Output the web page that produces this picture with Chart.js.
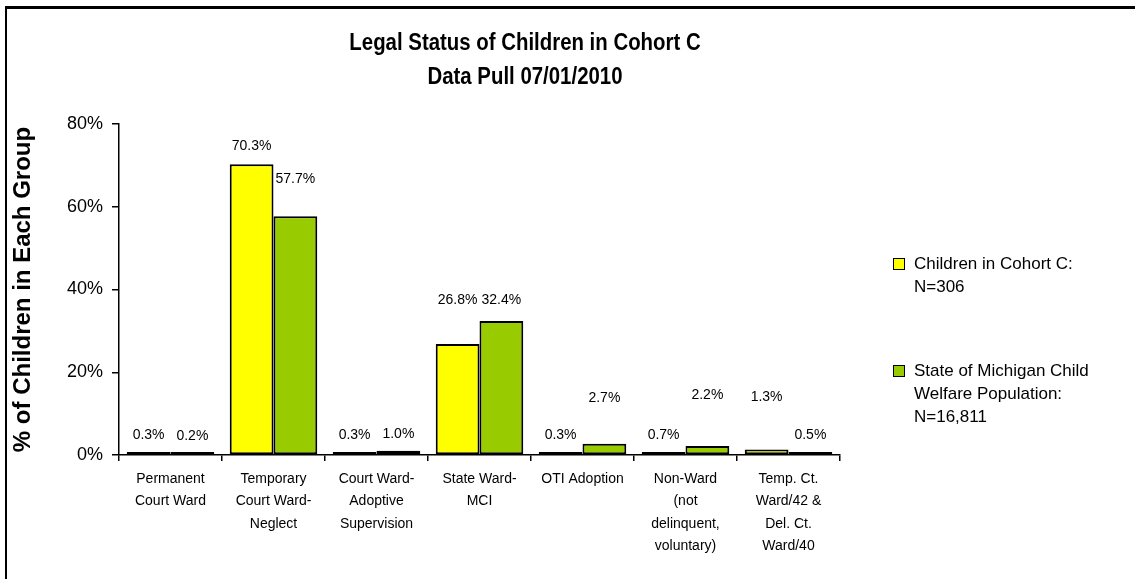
<!DOCTYPE html>
<html>
<head>
<meta charset="utf-8">
<script src="https://cdn.jsdelivr.net/npm/chart.js@4.4.1/dist/chart.umd.min.js"></script>
<style>
  html, body { margin: 0; padding: 0; background: #fff; }
  #wrap { position: relative; width: 1135px; height: 579px; overflow: hidden; font-family: "Liberation Sans", Arial, sans-serif; color: #000; }
  #frame { position: absolute; left: 5px; top: 6px; width: 1140px; height: 600px; border-top: 3px solid #000; border-left: 2px solid #000; }
  #titulo { position: absolute; left: 225px; width: 600px; top: 25px; text-align: center; white-space: nowrap;
            font-weight: bold; font-size: 24px; line-height: 34px; transform: scaleX(0.85); transform-origin: 300px 0; }
  #leyenda { position: absolute; left: 893px; top: 252px; font-size: 17px; line-height: 23px; }
  .item { position: relative; padding-left: 21px; margin-bottom: 61px; }
  .caja { position: absolute; left: 0; top: 6px; width: 10px; height: 10px; border: 1px solid #000; }
</style>
</head>
<body>
<div id="wrap">
  <canvas id="grafico" width="1135" height="579"></canvas>
  <div id="frame"></div>
  <div id="titulo">Legal Status of Children in Cohort C<br>Data Pull 07/01/2010</div>
  <div id="leyenda">
    <div class="item"><span class="caja" style="background:#FFFF00"></span>Children in Cohort C:<br>N=306</div>
    <div class="item"><span class="caja" style="background:#99CC00"></span>State of Michigan Child<br>Welfare Population:<br>N=16,811</div>
  </div>
</div>
<script>
// --- datos ---
const categorias = [
  ['Permanent', 'Court Ward'],
  ['Temporary', 'Court Ward-', 'Neglect'],
  ['Court Ward-', 'Adoptive', 'Supervision'],
  ['State Ward-', 'MCI'],
  ['OTI Adoption'],
  ['Non-Ward', '(not', 'delinquent,', 'voluntary)'],
  ['Temp. Ct.', 'Ward/42 &', 'Del. Ct.', 'Ward/40']
];
const cohorteC = [0.3, 70.3, 0.3, 26.8, 0.3, 0.7, 1.3];
const michigan = [0.2, 57.7, 1.0, 32.4, 2.7, 2.2, 0.5];
const etiquetasCohorte = ['0.3%', '70.3%', '0.3%', '26.8%', '0.3%', '0.7%', '1.3%'];
const etiquetasMichigan = ['0.2%', '57.7%', '1.0%', '32.4%', '2.7%', '2.2%', '0.5%'];
const ticksY = [0, 20, 40, 60, 80];

// desplazamiento (px) de cada etiqueta por encima de su barra, como en el original
const elevacion = [
  [19, 18, 19, 44, 19, 17, 52],
  [18, 37, 17, 21, 46, 51, 18]
];

// --- plugin: etiquetas de valor ---
const etiquetasPlugin = {
  id: 'etiquetas',
  afterDatasetsDraw(chart) {
    const ctx = chart.ctx;
    const textos = [etiquetasCohorte, etiquetasMichigan];
    const base = chart.scales.y.getPixelForValue(0);
    ctx.save();
    ctx.font = '14px "Liberation Sans", Arial, sans-serif';
    ctx.fillStyle = '#000';
    ctx.textAlign = 'center';
    ctx.textBaseline = 'middle';
    chart.data.datasets.forEach((ds, i) => {
      chart.getDatasetMeta(i).data.forEach((bar, j) => {
        const tope = chart.scales.y.getPixelForValue(ds.data[j]);
        ctx.fillText(textos[i][j], bar.x, Math.min(tope, base) - elevacion[i][j]);
      });
    });
    ctx.restore();
  }
};

const ctx = document.getElementById('grafico').getContext('2d');
new Chart(ctx, {
  type: 'bar',
  data: {
    labels: categorias,
    datasets: [
      {
        label: 'Children in Cohort C: N=306',
        data: cohorteC,
        backgroundColor: '#FFFF00',
        borderColor: '#000',
        borderWidth: 2,
        borderSkipped: false
      },
      {
        label: 'State of Michigan Child Welfare Population: N=16,811',
        data: michigan,
        backgroundColor: '#99CC00',
        borderColor: '#000',
        borderWidth: 2,
        borderSkipped: false
      }
    ]
  },
  options: {
    responsive: false,
    animation: false,
    layout: { padding: { top: 124, right: 295, bottom: 0, left: 0 } },
    datasets: { bar: { categoryPercentage: 0.85, barPercentage: 1, minBarLength: 3 } },
    plugins: {
      legend: { display: false },
      title: { display: false },
      tooltip: { enabled: false }
    },
    scales: {
      x: {
        afterFit: (s) => { s.height = 124; },
        grid: { drawOnChartArea: false, drawTicks: true, tickLength: 6, color: '#000', lineWidth: 1.5, offset: true },
        border: { display: true, color: '#000', width: 1.5 },
        ticks: {
          color: '#000',
          autoSkip: false,
          maxRotation: 0,
          padding: 7,
          font: { family: '"Liberation Sans", Arial, sans-serif', size: 14, lineHeight: 1.6 }
        }
      },
      y: {
        min: 0,
        max: 80,
        afterFit: (s) => { s.width = 119; },
        afterBuildTicks: (s) => { s.ticks = ticksY.map(v => ({ value: v })); },
        grid: { drawOnChartArea: false, drawTicks: true, tickLength: 7, color: '#000', lineWidth: 1.5 },
        border: { display: true, color: '#000', width: 1.5 },
        ticks: {
          color: '#000',
          padding: 9,
          callback: (v) => v + '%',
          font: { family: '"Liberation Sans", Arial, sans-serif', size: 18 }
        },
        title: {
          display: true,
          text: '% of Children in Each Group',
          color: '#000',
          padding: { top: 9, bottom: 0 },
          font: { family: '"Liberation Sans", Arial, sans-serif', size: 24, weight: 'bold' }
        }
      }
    }
  },
  plugins: [etiquetasPlugin]
});
</script>
</body>
</html>
